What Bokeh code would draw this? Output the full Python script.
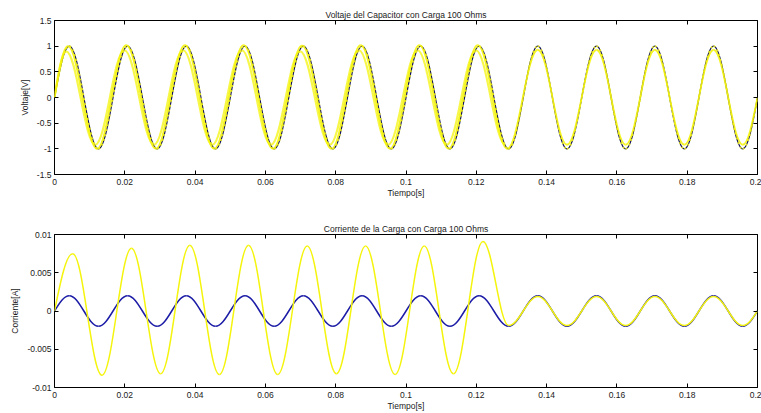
from bokeh.plotting import figure
from bokeh.models import Range1d, FixedTicker, LinearAxis, ColumnDataSource
from bokeh.layouts import column
from bokeh.embed import file_html
from bokeh.resources import INLINE

# ---------------- data ----------------
# extrema (time [s], value) of each trace; 0-valued ends are zero crossings
x_ticks = [0, 0.02, 0.04, 0.06, 0.08, 0.1, 0.12, 0.14, 0.16, 0.18, 0.2]
x_tick_labels = ["0", "0.02", "0.04", "0.06", "0.08", "0.1", "0.12", "0.14", "0.16", "0.18", "0.2"]
yv_ticks = [-1.5, -1, -0.5, 0, 0.5, 1, 1.5]
yv_tick_labels = ["-1.5", "-1", "-0.5", "0", "0.5", "1", "1.5"]
yi_ticks = [-0.01, -0.005, 0, 0.005, 0.01]
yi_tick_labels = ["-0.01", "-0.005", "0", "0.005", "0.01"]

t_ref = [0, 0.0042, 0.0125, 0.0208, 0.0292, 0.0375, 0.0458, 0.0542, 0.0625, 0.0708,
         0.0792, 0.0875, 0.0958, 0.1042, 0.1125, 0.1208, 0.1292, 0.1375, 0.1458,
         0.1542, 0.1625, 0.1708, 0.1792, 0.1875, 0.1958, 0.2]
v_ref = [0, 1, -1, 1, -1, 1, -1, 1, -1, 1, -1, 1, -1, 1, -1, 1, -1, 1, -1, 1, -1,
         1, -1, 1, -1, 0]

t_cap = [0, 0.0038, 0.0121, 0.0204, 0.0288, 0.0371, 0.0454, 0.0538, 0.0621, 0.0704,
         0.0788, 0.0871, 0.0954, 0.1038, 0.1121, 0.1204, 0.1288, 0.1375, 0.1458,
         0.1542, 0.1625, 0.1708, 0.1792, 0.1875, 0.1958, 0.2]
v_cap = [0, 1.0, -1.0, 1.02, -1.0, 1.02, -1.0, 1.02, -1.0, 1.01, -1.0, 1.02, -1.0,
         1.02, -1.0, 1.02, -1.0, 0.93, -0.92, 0.93, -0.92, 0.93, -0.92, 0.93, -0.92, 0]

t_cap_ruido = [0, 0.0033, 0.0116, 0.0199, 0.0283, 0.0366, 0.0449, 0.0533, 0.0616,
               0.0699, 0.0783, 0.0866, 0.0949, 0.1033, 0.1116, 0.1199, 0.1283]
v_cap_ruido = [0, 0.9, -0.92, 0.92, -0.92, 0.92, -0.92, 0.92, -0.92, 0.9, -0.92, 0.92,
               -0.92, 0.92, -0.92, 0.92, -0.92]

t_iref = t_ref
v_iref = [0, 0.002, -0.002, 0.002, -0.002, 0.002, -0.002, 0.002, -0.002, 0.002,
          -0.002, 0.002, -0.002, 0.002, -0.002, 0.002, -0.002, 0.002, -0.002, 0.002,
          -0.002, 0.002, -0.002, 0.002, -0.002, 0]

t_icarga = [0, 0.0052, 0.0135, 0.0219, 0.0302, 0.0385, 0.0469, 0.0552, 0.0635, 0.0719,
            0.0802, 0.0885, 0.0969, 0.1052, 0.1135, 0.1219, 0.1292, 0.1375, 0.1458,
            0.1542, 0.1625, 0.1708, 0.1792, 0.1875, 0.1958, 0.2]
v_icarga = [0, 0.0075, -0.0084, 0.0082, -0.0082, 0.0086, -0.0083, 0.0086, -0.0083,
            0.0085, -0.0082, 0.0085, -0.0083, 0.0085, -0.0082, 0.0091, -0.0019, 0.0019,
            -0.0019, 0.0019, -0.0019, 0.0019, -0.0019, 0.0019, -0.0019, 0]

AZUL = "#1c1ca6"
AZUL_OSC = "#14145a"
AMARILLO = "#f4f40c"
FONT = "Liberation Sans"
FS = "8.5px"


def curva(ts, vs):
    """Bezier control points joining consecutive extrema (sinusoidal shape)."""
    d = dict(x0=[], y0=[], x1=[], y1=[], cx0=[], cy0=[], cx1=[], cy1=[])
    for i in range(len(ts) - 1):
        t0, v0, t1, v1 = ts[i], vs[i], ts[i + 1], vs[i + 1]
        dt = t1 - t0
        if v0 == 0:
            c0 = (t0 + 0.3516 * dt, 0.5523 * v1)
            c1 = (t1 - 0.3516 * dt, v1)
        elif v1 == 0:
            c0 = (t0 + 0.3516 * dt, v0)
            c1 = (t1 - 0.3516 * dt, 0.5523 * v0)
        else:
            c0 = (t0 + 0.3634 * dt, v0)
            c1 = (t1 - 0.3634 * dt, v1)
        d["x0"].append(t0); d["y0"].append(v0)
        d["x1"].append(t1); d["y1"].append(v1)
        d["cx0"].append(c0[0]); d["cy0"].append(c0[1])
        d["cx1"].append(c1[0]); d["cy1"].append(c1[1])
    return ColumnDataSource(d)


def estilo_eje(ax, ticks, labels, show_labels=True):
    ax.ticker = FixedTicker(ticks=ticks)
    if show_labels:
        ax.major_label_overrides = {t: l for t, l in zip(ticks, labels)}
        ax.major_label_text_font = FONT
        ax.major_label_text_font_size = FS
        ax.major_label_text_color = "#1a1a1a"
    else:
        ax.major_label_overrides = {t: "" for t in ticks}
        ax.major_label_text_font_size = "1px"
        ax.major_label_standoff = 0
    ax.major_tick_in = 4
    ax.major_tick_out = 0
    ax.major_tick_line_color = "black"
    ax.minor_tick_line_color = None
    ax.axis_line_color = None
    ax.axis_label_text_font = FONT
    ax.axis_label_text_font_size = FS
    ax.axis_label_text_font_style = "normal"
    ax.axis_label_text_color = "#1a1a1a"


def panel(title, ylabel, y_lo, y_hi, y_ticks, y_labels, height, mb_top, mb_bottom, ylab_standoff):
    p = figure(width=761, height=height, x_range=Range1d(0, 0.2), y_range=Range1d(y_lo, y_hi),
               output_backend="svg", toolbar_location=None, title=title,
               min_border_left=54, min_border_right=4, min_border_top=mb_top,
               min_border_bottom=mb_bottom)
    p.title.text_font = FONT
    p.title.text_font_size = FS
    p.title.text_font_style = "normal"
    p.title.align = "center"
    p.title.standoff = 2
    p.title.text_color = "#1a1a1a"
    p.xgrid.visible = False
    p.ygrid.visible = False
    p.outline_line_color = "black"
    p.outline_line_alpha = 1
    p.background_fill_color = "white"
    p.border_fill_color = "white"
    estilo_eje(p.xaxis[0], x_ticks, x_tick_labels)
    p.xaxis[0].axis_label = "Tiempo[s]"
    p.xaxis[0].major_label_standoff = 4
    p.xaxis[0].axis_label_standoff = 0
    estilo_eje(p.yaxis[0], y_ticks, y_labels)
    p.yaxis[0].axis_label = ylabel
    p.yaxis[0].major_label_standoff = 3
    p.yaxis[0].axis_label_standoff = ylab_standoff
    top = LinearAxis()
    estilo_eje(top, x_ticks, x_tick_labels, show_labels=False)
    p.add_layout(top, "above")
    right = LinearAxis()
    estilo_eje(right, y_ticks, y_labels, show_labels=False)
    p.add_layout(right, "right")
    return p


BZ = dict(x0="x0", y0="y0", x1="x1", y1="y1", cx0="cx0", cy0="cy0", cx1="cx1", cy1="cy1")

p1 = panel("Voltaje del Capacitor con Carga 100 Ohms", "Voltaje[V]", -1.5, 1.5,
           yv_ticks, yv_tick_labels, 200, 20, 26, 4)
src_ref = curva(t_ref, v_ref)
p1.bezier(source=src_ref, line_color=AZUL_OSC, line_width=1.3, **BZ)
p1.bezier(source=curva(t_cap_ruido, v_cap_ruido), line_color=AMARILLO, line_width=2.2,
          line_alpha=0.75, **BZ)
p1.bezier(source=curva(t_cap, v_cap), line_color=AMARILLO, line_width=1.8, line_alpha=0.9, **BZ)
# noise crossing the reference trace (breaks it into a dash-dot look)
p1.bezier(source=src_ref, line_color=AMARILLO, line_width=1.6, line_alpha=0.85,
          line_dash="2 3", **BZ)

p2 = panel("Corriente de la Carga con Carga 100 Ohms", "Corriente[A]", -0.01, 0.01,
           yi_ticks, yi_tick_labels, 213, 34, 26, 4)
p2.bezier(source=curva(t_iref, v_iref), line_color=AZUL, line_width=1.5, **BZ)
p2.bezier(source=curva(t_icarga, v_icarga), line_color=AMARILLO, line_width=1.5, **BZ)

layout = column(p1, p2, spacing=0)
open("out.html", "w").write(file_html(layout, INLINE))
